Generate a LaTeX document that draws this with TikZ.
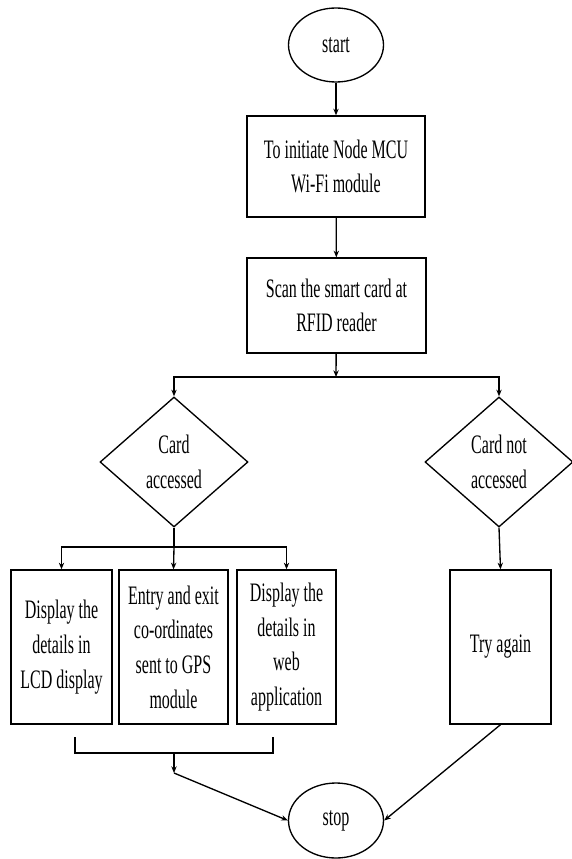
\documentclass[tikz,border=0pt]{standalone}
\usepackage{fontspec}
\setmainfont{Liberation Serif}[FakeStretch=0.6]
\usetikzlibrary{shapes.geometric,arrows.meta}

\tikzset{every picture/.style={line width=1pt}}
\tikzset{
	terminal/.style={draw, ellipse, inner sep=0pt, minimum width=71.25pt, minimum height=55.5pt},
	process/.style={draw, rectangle, align=center, inner sep=2pt},
	decision/.style={draw, diamond, align=center, inner sep=0pt, minimum width=111pt, minimum height=97.5pt},
	flow/.style={-{Stealth[length=5pt,width=4pt]}}}

\begin{document}
\begin{tikzpicture}[x=0.75pt,y=0.75pt,yscale=-1,xscale=1,font=\fontsize{20}{26}\selectfont]
	\useasboundingbox (0,0) rectangle (571,859);

	% Terminals
	\node (start) [terminal] at (336,45) {start};
	\node (stop) [terminal, minimum height=56.25pt] at (336,820.5) {stop};

	% Process boxes
	\node (init) [process, minimum width=133.5pt, minimum height=75.75pt] at (336,166.5) {To initiate Node MCU\\Wi-Fi module};
	\node (scan) [process, minimum width=134.25pt, minimum height=71.25pt] at (336.5,305.5) {Scan the smart card at\\RFID reader};

	% Decisions
	\node (acc) [decision] at (174,462) {Card\\accessed};
	\node (nacc) [decision] at (499,462) {Card not\\accessed};

	% Result boxes
	\node (lcd) [process, minimum width=75.75pt, minimum height=115.5pt] at (61.5,647) {Display the\\details in\\LCD display};
	\node (gps) [process, minimum width=81.75pt, minimum height=115.5pt] at (173.5,647) {Entry and exit\\co-ordinates\\sent to GPS\\module};
	\node (web) [process, minimum width=74.25pt, minimum height=115.5pt] at (286.5,647) {Display the\\details in\\web\\application};
	\node (try) [process, minimum width=75.75pt, minimum height=115.5pt] at (500.5,647) {Try again};

	% Junctions
	\coordinate (split) at (336,377);
	\coordinate (fork) at (174,547);
	\coordinate (bl) at (75,737);
	\coordinate (br) at (273,737);
	\coordinate (join) at (174,753);
	\coordinate (joindown) at (174,773);

	% Connectors
	\draw [flow] (start) -- (init);
	\draw [flow] (init) -- (scan);
	\draw [flow] (scan) -- (split);
	\draw [flow] (split) -| (acc.north);
	\draw [flow] (split) -| (nacc.north);
	\draw (acc.south) -- (fork);
	\draw [flow] (fork) -| (lcd.north);
	\draw [flow] (fork) -- (gps.north);
	\draw [flow] (fork) -| (web.north);
	\draw [flow] (nacc.south) -- (try.north);
	\draw (bl) |- (join) -| (br);
	\draw [flow] (join) -- (joindown);
	\draw [flow] (joindown) -- (stop.west);
	\draw [flow] (try.south) -- (stop.east);

\end{tikzpicture}
\end{document}
